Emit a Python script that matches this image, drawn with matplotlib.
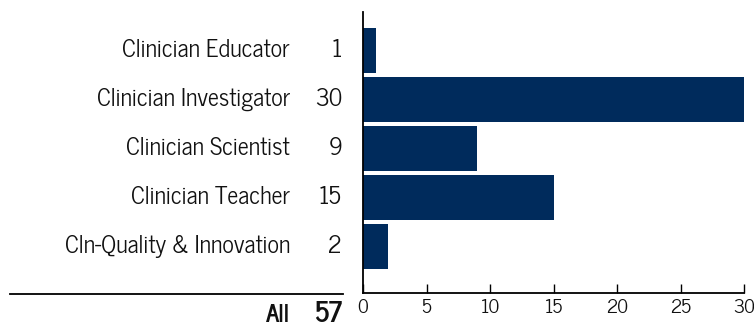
import matplotlib
matplotlib.use("Agg")
import matplotlib.pyplot as plt
from matplotlib.transforms import blended_transform_factory
from matplotlib.lines import Line2D

categories = ["Clinician Educator", "Clinician Investigator", "Clinician Scientist",
              "Clinician Teacher", "Cln-Quality & Innovation"]
counts = [1, 30, 9, 15, 2]
total_label = "All"
total = 57
xticks = [0, 5, 10, 15, 20, 25, 30]

plt.rcParams["font.family"] = ["News Cycle", "DejaVu Sans"]

W, H = 754, 329
fig = plt.figure(figsize=(W / 100, H / 100), dpi=100)
ax = fig.add_axes([363 / W, 1 - 293 / H, (744 - 363) / W, (293 - 11.7) / H])

navy = "#002b5c"
ink = "#111111"
ypos = list(range(len(categories)))
ax.barh(ypos, counts, height=0.92, color=navy)
ax.set_xlim(0, 30)
ax.set_ylim(4.96, -0.79)
ax.set_yticks([])
ax.set_xticks(xticks)
ax.set_xticklabels([str(t) for t in xticks])
ax.tick_params(axis="x", direction="in", length=6.5, width=1, labelsize=14, pad=4, color="black",
               labelcolor=ink)
for s in ["top", "right"]:
    ax.spines[s].set_visible(False)
for s in ["left", "bottom"]:
    ax.spines[s].set_linewidth(1.3)
    ax.spines[s].set_color("black")

tr = blended_transform_factory(fig.transFigure, ax.transData)
for y, name, c in zip(ypos, categories, counts):
    ax.text(290 / W, y, name, transform=tr, ha="right", va="center", fontsize=17.4, color=ink)
    ax.text(342 / W, y, str(c), transform=tr, ha="right", va="center", fontsize=17.4, color=ink)

fig.add_artist(Line2D([10 / W, 343 / W], [1 - 294 / H, 1 - 294 / H], color="black", lw=1.3,
                      transform=fig.transFigure))
fig.text(290 / W, 1 - 315 / H, total_label, ha="right", va="center", fontsize=17.4,
         fontweight="bold", color=ink)
fig.text(342 / W, 1 - 315 / H, str(total), ha="right", va="center", fontsize=20,
         fontweight="bold", color=ink)

fig.savefig("out.png", dpi=100)
